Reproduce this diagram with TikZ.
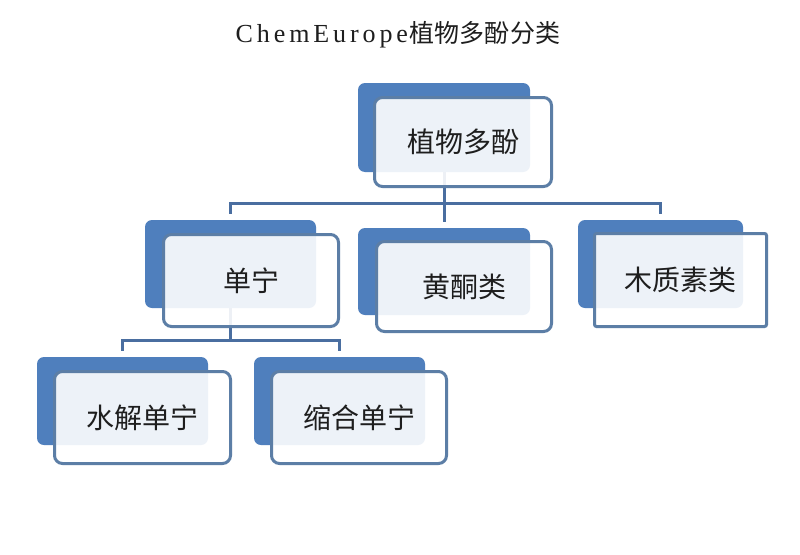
\documentclass[tikz,border=0pt]{standalone}
\usepackage{fontspec}
\newfontfamily\cjk{Noto Sans CJK SC}
\newfontfamily\titlelat[LetterSpace=15]{Liberation Serif}
\newfontfamily\titlecjk[LetterSpace=1]{Noto Sans CJK SC}
\definecolor{backblue}{RGB}{79,127,189}
\definecolor{frontline}{RGB}{92,126,166}
\definecolor{connline}{RGB}{74,110,160}
\definecolor{txt}{RGB}{30,30,30}
\tikzset{
  backbox/.style={rectangle, rounded corners=7pt, fill=backblue, inner sep=0pt},
  frontbox/.style={rectangle, rounded corners=8pt, draw=frontline, line width=3pt,
    fill=white, fill opacity=0.9, text opacity=1, text=txt, inner sep=0pt,
    font=\cjk\fontsize{28}{32}\selectfont},
  conn/.style={draw=connline, line width=3pt},
  titlestyle/.style={text=txt, inner sep=0pt}
}
\begin{document}
\begin{tikzpicture}[x=1pt,y=-1pt]
\useasboundingbox[fill=white] (0,0) rectangle (800,554);
% title
\node[titlestyle] (title) at (398,35) {{\titlelat\fontsize{26}{30}\selectfont ChemEurope}\hspace{1pt}{\titlecjk\fontsize{25}{30}\selectfont 植物多酚分类}};
% back boxes
\node[backbox, minimum width=172pt, minimum height=89pt] (r) at (444,127.5) {};
\node[backbox, minimum width=171pt, minimum height=88pt] (a) at (230.5,264) {};
\node[backbox, minimum width=172pt, minimum height=87pt] (b) at (444,271.5) {};
\node[backbox, minimum width=165pt, minimum height=88pt] (c) at (660.5,264) {};
\node[backbox, minimum width=171pt, minimum height=88pt] (d) at (122.5,401) {};
\node[backbox, minimum width=171pt, minimum height=88pt] (e) at (339.5,401) {};
% connectors
\draw[conn] (r.south) -- ++(0,31) coordinate (j1);
\draw[conn] ([yshift=6pt]a.north) |- (j1) -| ([yshift=6pt]c.north);
\draw[conn] (j1) -- ([yshift=6pt]b.north);
\draw[conn] (a.south) -- ++(0,32) coordinate (j2);
\draw[conn] ([yshift=6pt]d.north) |- (j2) -| ([yshift=6pt]e.north);
% front boxes
\node[frontbox, minimum width=177pt, minimum height=89pt] (rf) at (463,142) {植物多酚};
\node[frontbox, minimum width=175pt, minimum height=92pt] (af) at (251,280.5) {单宁};
\node[frontbox, minimum width=175pt, minimum height=90pt] (bf) at (464,286.5) {黄酮类};
\node[frontbox, rounded corners=2pt, minimum width=172pt, minimum height=93pt] (cf) at (680.5,280) {木质素类};
\node[frontbox, minimum width=176pt, minimum height=92pt] (df) at (142.5,417.5) {水解单宁};
\node[frontbox, minimum width=175pt, minimum height=92pt] (ef) at (359,417.5) {缩合单宁};
\end{tikzpicture}
\end{document}
